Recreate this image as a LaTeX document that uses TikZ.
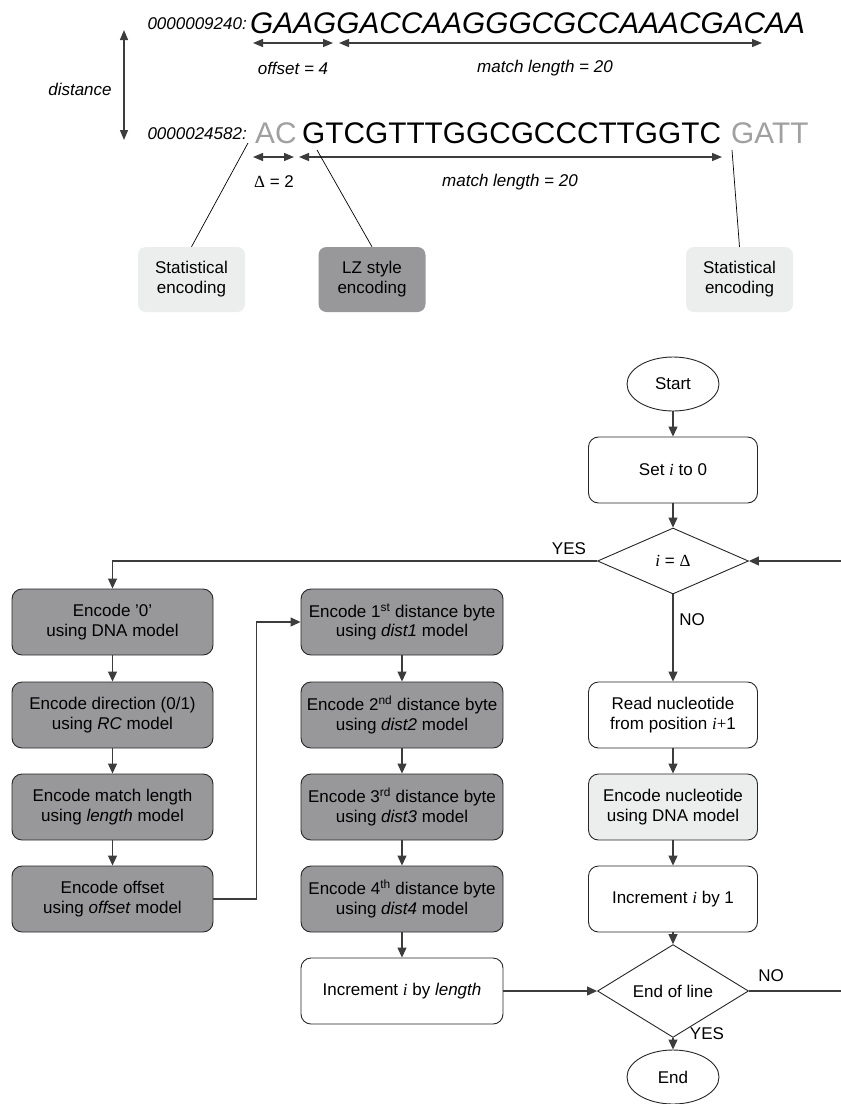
\documentclass[tikz,border=0pt]{standalone}
\usepackage{fontspec}
\setmainfont{Liberation Sans}
\newfontfamily\tnr{Liberation Serif}
\usetikzlibrary{arrows.meta,shapes.geometric,calc}
\definecolor{darkfill}{RGB}{152,152,155}
\definecolor{lightfill}{RGB}{236,237,237}
\definecolor{linec}{RGB}{60,60,60}
\definecolor{seqgray}{RGB}{160,160,160}
\newcommand{\mi}[1]{{\tnr\itshape #1}}
\begin{document}
\begin{tikzpicture}[x=1pt,y=-1pt,
  txt/.style={inner sep=0pt, font=\fontsize{17}{19.5}\selectfont},
  itxt/.style={inner sep=0pt, font=\fontsize{17}{19.5}\selectfont\itshape},
  seq/.style={inner sep=0pt, font=\fontsize{29.8}{32}\selectfont},
  tbox/.style={rectangle, rounded corners=8pt, minimum width=107pt, minimum height=65pt, align=center, inner sep=0pt, font=\fontsize{17}{20}\selectfont},
  flow/.style={rectangle, rounded corners=10pt, draw=black!85, line width=0.9pt, minimum height=66pt, align=center, inner sep=2pt, font=\fontsize{17}{19.5}\selectfont},
  lbox/.style={flow, minimum width=201pt, fill=darkfill},
  mbox/.style={flow, minimum width=202pt, fill=darkfill},
  wbox/.style={flow, minimum width=202pt, fill=white},
  rbox/.style={flow, minimum width=169pt, fill=white},
  decision/.style={diamond, draw=black!85, line width=0.9pt, minimum width=151pt, minimum height=66pt, inner sep=0pt, font=\fontsize{17}{19.5}\selectfont},
  term/.style={ellipse, draw=black!85, line width=0.9pt, minimum width=92pt, minimum height=54pt, inner sep=0pt, font=\fontsize{17}{19.5}\selectfont},
  conn/.style={draw=linec, line width=1.1pt, -{Triangle[length=10pt,width=9pt]}},
  plain/.style={draw=linec, line width=1.1pt},
  dim/.style={draw=linec, line width=1.3pt, {Triangle[length=10pt,width=8pt]}-{Triangle[length=10pt,width=8pt]}},
  pointer/.style={draw=black, line width=0.7pt}
]
\fill[white] (0,0) rectangle (841,1104);
\useasboundingbox (0,0) rectangle (841,1104);

% ---------- top: sequences ----------
\node[itxt, anchor=base east] (lab1) at (247,29) {0000009240:};
\node[seq, anchor=base west, font=\fontsize{29.8}{32}\selectfont\itshape] (s1) at (250,33) {GAAGGACCAAGGGCGCCAAACGACAA};
\node[itxt, anchor=base east] (lab2) at (247,139) {0000024582:};
\node[seq, anchor=base west, text=seqgray] (s2a) at (255,143) {AC};
\node[seq, anchor=base west] (s2b) at (302,143) {GTCGTTTGGCGCCCTTGGTC};
\node[seq, anchor=base west, text=seqgray] (s2c) at (731,143) {GATT};

\coordinate (o1) at (253,43); \coordinate (o2) at (333,43);
\coordinate (m1a) at (339,43); \coordinate (m1b) at (762,43);
\draw[dim] (o1) -- (o2);
\draw[dim] (m1a) -- (m1b);
\node[itxt] (offl) at (293,68) {offset = 4};
\node[itxt] (ml1) at (545,68) {match length = 20};

\coordinate (dt) at (124,30); \coordinate (db) at (124,140);
\draw[dim] (dt) -- (db);
\node[itxt] (dist) at (80,89) {distance};

\coordinate (d1a) at (253,157); \coordinate (d1b) at (294,157);
\coordinate (m2a) at (299,157); \coordinate (m2b) at (722,157);
\draw[dim] (d1a) -- (d1b);
\draw[dim] (m2a) -- (m2b);
\node[txt] (dl) at (274,182) {{\tnr Δ} = 2};
\node[itxt] (ml2) at (510,182) {match length = 20};

\node[tbox, fill=lightfill] (b1) at (191.5,279.5) {Statistical\\encoding};
\node[tbox, fill=darkfill] (b2) at (372,279.5) {LZ style\\encoding};
\node[tbox, fill=lightfill] (b3) at (739.5,279.5) {Statistical\\encoding};
\coordinate (p1) at (248,143);
\coordinate (p2) at (317,150);
\coordinate (p3) at (732,150);
\draw[pointer] (p1) -- (b1.north);
\draw[pointer] (p2) -- (b2.north);
\draw[pointer] (p3) -- (b3.north);

% ---------- flowchart: right column ----------
\node[term] (start) at (673,384) {Start};
\node[rbox] (set) at (673,470) {Set \mi{i} to 0};
\node[decision] (dq) at (673,561) {\mi{i} = {\tnr Δ}};
\node[rbox] (read) at (673,715) {Read nucleotide\\from position \mi{i}{\tnr +}1};
\node[rbox, fill=lightfill] (encn) at (673,807) {Encode nucleotide\\using DNA model};
\node[rbox] (inc1) at (673,899) {Increment \mi{i} by 1};
\node[decision] (eol) at (673,991) {End of line};
\node[term] (end) at (673,1077) {End};

% ---------- left column ----------
\node[lbox] (l1) at (112.5,622) {Encode {'}0{'}\\using DNA model};
\node[lbox] (l2) at (112.5,715) {Encode direction (0/1)\\using \textit{RC} model};
\node[lbox] (l3) at (112.5,807) {Encode match length\\using \textit{length} model};
\node[lbox] (l4) at (112.5,899) {Encode offset\\using \textit{offset} model};

% ---------- middle column ----------
\node[mbox] (m1) at (402,622) {Encode 1\textsuperscript{st} distance byte\\using \textit{dist1} model};
\node[mbox] (m2) at (402,715) {Encode 2\textsuperscript{nd} distance byte\\using \textit{dist2} model};
\node[mbox] (m3) at (402,807) {Encode 3\textsuperscript{rd} distance byte\\using \textit{dist3} model};
\node[mbox] (m4) at (402,899) {Encode 4\textsuperscript{th} distance byte\\using \textit{dist4} model};
\node[wbox] (m5) at (402,991) {Increment \mi{i} by \textit{length}};

% ---------- connectors ----------
\draw[conn] (start) -- (set);
\draw[conn] (set) -- (dq);
\draw[conn] (dq.south) -- (read);
\draw[conn] (read) -- (encn);
\draw[conn] (encn) -- (inc1);
\draw[conn] (inc1) -- (eol);
\draw[conn] (eol.south) -- (end);
\draw[conn] (dq.west) -| (l1.north);
\draw[conn] (l1) -- (l2);
\draw[conn] (l2) -- (l3);
\draw[conn] (l3) -- (l4);
\draw[conn] (l4.east) -- ++(43,0) |- (m1.west);
\draw[conn] (m1) -- (m2);
\draw[conn] (m2) -- (m3);
\draw[conn] (m3) -- (m4);
\draw[conn] (m4) -- (m5);
\draw[conn] (m5.east) -- (eol.west);
\coordinate (rin) at (841,561);
\draw[conn] (rin) -- (dq.east);
\coordinate (rout) at (841,991);
\draw[plain] (eol.east) -- (rout);

\node[txt] (yes1) at (569,549) {YES};
\node[txt] (no1) at (692,620) {NO};
\node[txt] (no2) at (771,976) {NO};
\node[txt] (yes2) at (707,1034) {YES};
\end{tikzpicture}
\end{document}
